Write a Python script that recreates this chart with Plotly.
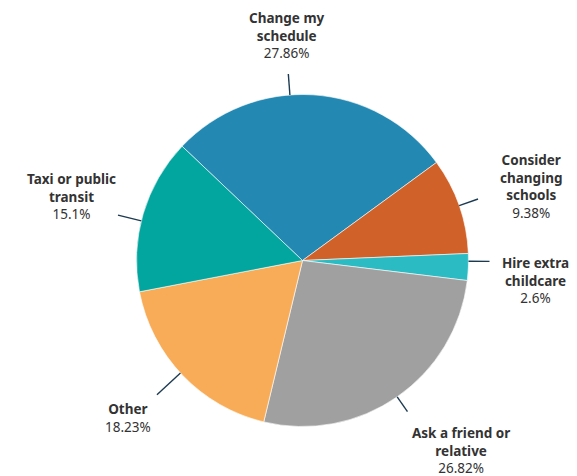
import math
import plotly.graph_objects as go

# Survey responses, in drawing order (clockwise)
labels = ["Change my schedule", "Consider changing schools", "Hire extra childcare",
          "Ask a friend or relative", "Other", "Taxi or public transit"]
label_lines = ["Change my<br>schedule", "Consider<br>changing<br>schools", "Hire extra<br>childcare",
               "Ask a friend or<br>relative", "Other", "Taxi or public<br>transit"]
shares = [27.86, 9.38, 2.6, 26.82, 18.23, 15.1]

colors = ["#2389b3", "#d06128", "#2bbbc3", "#a0a0a0", "#f8ac57", "#03a59f"]

W, H = 577, 476
CX, CY, R = 302.5, 260.5, 166
ROTATION = -46.5

# leader line tweaks: angular nudge (deg) and length (px)
line_nudge = [-8, 0, -2, 0, 1, -2.5]
line_len = [21, 20, 21, 18, 32, 24]
# label block centres (px)
label_pos = [(287, 36), (531, 187), (535, 280), (461, 450), (128, 418), (71, 196)]

fig = go.Figure(go.Pie(
    labels=labels,
    values=shares,
    sort=False,
    direction="clockwise",
    rotation=ROTATION,
    marker=dict(colors=colors, line=dict(color="white", width=0.6)),
    textinfo="none",
    hoverinfo="label+percent",
    domain=dict(x=[(CX - R) / W, (CX + R) / W],
                y=[(H - CY - R) / H, (H - CY + R) / H]),
    showlegend=False,
))


def to_paper(px, py):
    return px / W, 1 - py / H


total = sum(shares)
start = ROTATION
shapes = []
annotations = []
for i, v in enumerate(shares):
    span = v / total * 360
    mid = math.radians(start + span / 2 + line_nudge[i])
    start += span
    x0, y0 = CX + R * math.sin(mid), CY - R * math.cos(mid)
    x1 = CX + (R + line_len[i]) * math.sin(mid)
    y1 = CY - (R + line_len[i]) * math.cos(mid)
    p0, p1 = to_paper(x0, y0), to_paper(x1, y1)
    shapes.append(dict(type="line", xref="paper", yref="paper",
                       x0=p0[0], y0=p0[1], x1=p1[0], y1=p1[1],
                       line=dict(color="#1c3a52", width=1.4)))
    lx, ly = to_paper(*label_pos[i])
    annotations.append(dict(
        xref="paper", yref="paper", x=lx, y=ly,
        xanchor="center", yanchor="middle", align="center", showarrow=False,
        text=f"<b>{label_lines[i]}</b><br>{v}%",
        font=dict(family="Noto Sans, sans-serif", size=13.5, color="#333333"),
    ))

fig.update_layout(
    width=W, height=H,
    margin=dict(l=0, r=0, t=0, b=0),
    paper_bgcolor="white",
    plot_bgcolor="white",
    shapes=shapes,
    annotations=annotations,
)

fig.write_html("out.html")
